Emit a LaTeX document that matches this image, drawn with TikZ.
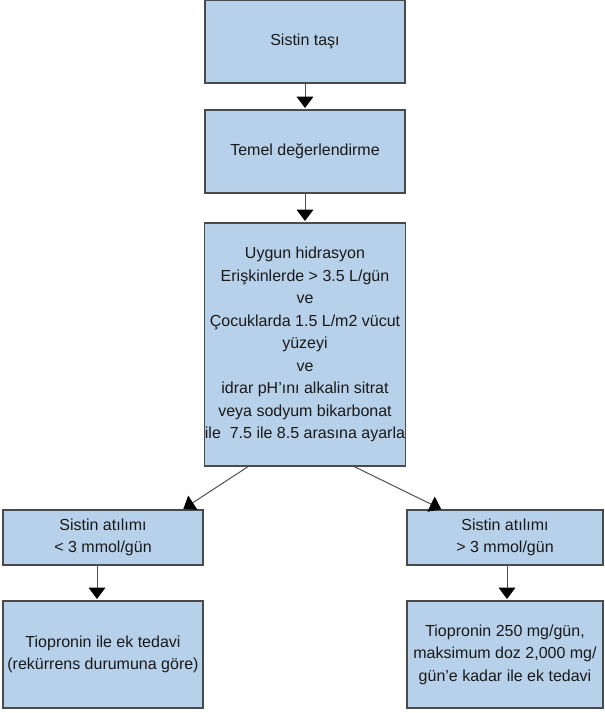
\documentclass[tikz,border=0pt]{standalone}
\usepackage{fontspec}
\setmainfont{Liberation Sans}
\usetikzlibrary{arrows.meta}
\definecolor{boxfill}{HTML}{B8D1EA}
\definecolor{boxline}{HTML}{4A4A4A}
\definecolor{linkline}{HTML}{505050}
\tikzset{
  flowbox/.style={draw=boxline, fill=boxfill, line width=0.8pt,
    inner sep=0pt, outer sep=0pt, align=center,
    font=\fontsize{12}{16.9}\selectfont, text=black!90},
  link/.style={draw=linkline, line width=0.75pt,
    -{Triangle[width=12.5pt,length=8.5pt,fill=black,color=black]}, shorten >=1.5pt}
}
\begin{document}
\begin{tikzpicture}[x=0.75pt, y=-0.75pt]
\useasboundingbox (0,0) rectangle (604,713);
% main column
\node[flowbox, minimum width=150pt, minimum height=62.25pt] (b1) at (305,41.5) {Sistin taşı};
\node[flowbox, minimum width=150pt, minimum height=62.25pt] (b2) at (305,151.5) {Temel değerlendirme};
\node[flowbox, minimum width=150pt, minimum height=182.25pt] (b3) at (305,344.5)
  {Uygun hidrasyon\\Erişkinlerde > 3.5 L/gün\\ve\\Çocuklarda 1.5 L/m2 vücut\\yüzeyi\\ve\\idrar pH’ını alkalin sitrat\\veya sodyum bikarbonat\\ile\ \ 7.5 ile 8.5 arasına ayarla};
% branches
\node[flowbox, minimum width=150pt, minimum height=41.25pt] (b4) at (103,537.5) {Sistin atılımı\\< 3 mmol/gün};
\node[flowbox, minimum width=147pt, minimum height=41.25pt] (b5) at (505,537.5) {Sistin atılımı\\> 3 mmol/gün};
\node[flowbox, minimum width=150pt, minimum height=80.25pt] (b6) at (103,654.5) {Tiopronin ile ek tedavi\\(rekürrens durumuna göre)};
\node[flowbox, minimum width=147pt, minimum height=80.25pt] (b7) at (505,654.5) {Tiopronin 250 mg/gün,\\maksimum doz 2,000 mg/\\gün’e kadar ile ek tedavi};
% connectors
\draw[link] (b1) -- (b2);
\draw[link] (b2) -- (b3);
\draw[link] ([xshift=-42pt]b3.south) -- ([xshift=59pt]b4.north);
\draw[link] ([xshift=36pt]b3.south) -- ([xshift=-46.5pt]b5.north);
\draw[link] ([xshift=-4.5pt]b4.south) -- ([xshift=-4.5pt]b6.north);
\draw[link] ([xshift=1.5pt]b5.south) -- ([xshift=1.5pt]b7.north);
\end{tikzpicture}
\end{document}
